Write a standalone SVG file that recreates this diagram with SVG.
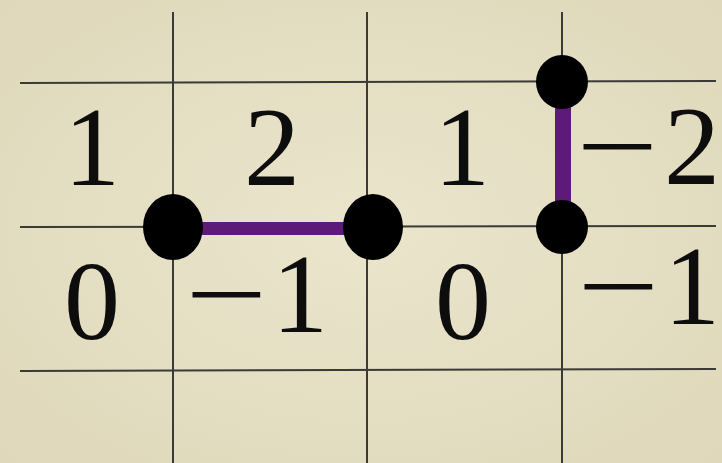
<svg xmlns="http://www.w3.org/2000/svg" width="722" height="463" viewBox="0 0 722 463">
  <defs>
    <radialGradient id="bg" cx="50%" cy="50%" r="75%">
      <stop offset="0" stop-color="#eae5cc"/>
      <stop offset="1" stop-color="#ded7b9"/>
    </radialGradient>
    <style>
      .grid { stroke: #3c3a36; stroke-width: 2; fill: none; }
      .edge { stroke: #5e1a78; fill: none; }
      .dot { fill: #000; }
      .lbl { font-family: "Liberation Serif", "DejaVu Serif", serif; font-size: 112px; fill: #0d0d0d; text-anchor: middle; }
    </style>
  </defs>
  <rect width="722" height="463" fill="url(#bg)"/>

  <g id="grid">
    <line class="grid" x1="173" y1="12" x2="173" y2="463"/>
    <line class="grid" x1="367" y1="12" x2="367" y2="463"/>
    <line class="grid" x1="562" y1="12" x2="562" y2="463"/>
    <line class="grid" x1="20" y1="83" x2="716" y2="81"/>
    <line class="grid" x1="20" y1="227" x2="716" y2="226"/>
    <line class="grid" x1="20" y1="371" x2="716" y2="369"/>
  </g>

  <g id="labels">
    <text class="lbl" x="92" y="185">1</text>
    <text class="lbl" x="272" y="185">2</text>
    <text class="lbl" x="462" y="185">1</text>
    <text class="lbl" x="617" y="184" textLength="82" lengthAdjust="spacingAndGlyphs">−</text>
    <text class="lbl" x="692" y="184">2</text>
    <text class="lbl" x="92" y="339">0</text>
    <text class="lbl" x="226" y="332" textLength="82" lengthAdjust="spacingAndGlyphs">−</text>
    <text class="lbl" x="300" y="332">1</text>
    <text class="lbl" x="463" y="339">0</text>
    <text class="lbl" x="618" y="324" textLength="82" lengthAdjust="spacingAndGlyphs">−</text>
    <text class="lbl" x="692" y="324">1</text>
  </g>

  <g id="connectors">
    <line class="edge" x1="173" y1="228.5" x2="372" y2="228.5" stroke-width="13"/>
    <line class="edge" x1="563" y1="82" x2="563" y2="227" stroke-width="16"/>
  </g>

  <g id="n1"><ellipse class="dot" cx="173" cy="227" rx="30" ry="33"/></g>
  <g id="n2"><ellipse class="dot" cx="373" cy="227" rx="30" ry="33"/></g>
  <g id="n3"><ellipse class="dot" cx="562" cy="82" rx="26" ry="27"/></g>
  <g id="n4"><ellipse class="dot" cx="562" cy="227" rx="26" ry="27"/></g>
</svg>
